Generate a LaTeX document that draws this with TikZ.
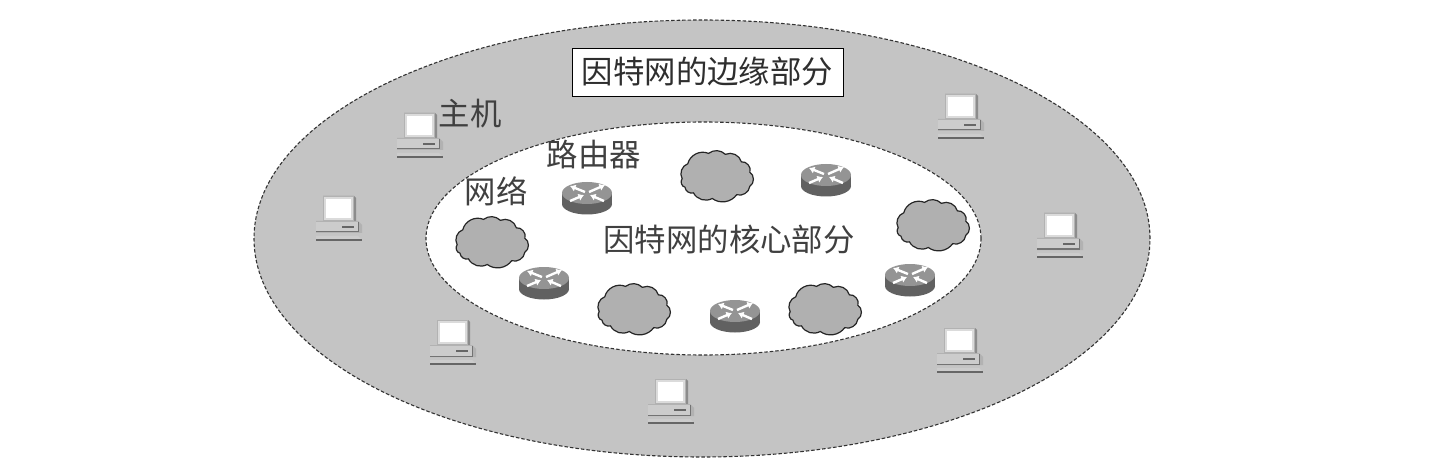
\documentclass[tikz,border=0pt]{standalone}
\usepackage{fontspec}
\usetikzlibrary{arrows.meta,shapes.geometric}
\setmainfont{Noto Sans CJK SC}
\begin{document}
\begin{tikzpicture}[x=1pt,y=-1pt,
  zone/.style={draw=black!80,line width=1.1pt,dash pattern=on 3.5pt off 2pt},
  lab/.style={text=black!75,inner sep=0pt,font=\fontsize{31.4}{33}\selectfont},
  rarrow/.style={white,line width=2.4pt,-{Latex[length=5.5pt,width=7.5pt]}},
  pics/host/.style={code={
    \fill[black!45] (-16,-22) -- (15,-22) -- (17,-20) -- (17,3) -- (-16,3) -- cycle;
    \fill[black!14,draw=black!30,line width=.8pt] (-16,-22) rectangle (14,2);
    \fill[white] (-13,-19) rectangle (12,0);
    \fill[black!30] (-23,3) -- (19,3) -- (23,7) -- (23,15) -- (-23,15) -- cycle;
    \fill[black!20] (-23,4) rectangle (19,14);
    \draw[black!60,line width=1.2pt] (3,9) -- (15,9);
    \draw[black!55,line width=1pt] (19,4) -- (19,14) -- (-23,14);
    \fill[black!20] (-23,18) -- (19,18) -- (23,22) -- (-23,22) -- cycle;
    \draw[black!60,line width=1.1pt] (-23,22) -- (23,22);
  }},
  pics/rtr/.style={code={
    \fill[black!62] (0,6) ellipse[x radius=25,y radius=10.5];
    \fill[black!62] (-25,-5) rectangle (25,6);
    \fill[black!42] (0,-5) ellipse[x radius=25,y radius=11];
    \draw[rarrow] (-2,-6) -- (-17,-12);
    \draw[rarrow] (2,-6) -- (18,-13);
    \draw[rarrow] (-17,3) -- (-3,-3);
    \draw[rarrow] (17,3) -- (3,-3);
  }},
  pics/cld/.style={code={
    \draw[fill=black!31,draw=black!85,line width=1.2pt,scale=.94]
      (-36,4) to[bend left=50] (-30,-12) to[bend left=50] (-8,-23)
      to[bend left=40] (10,-22) to[bend left=50] (27,-14)
      to[bend left=60] (36,-3) to[bend left=60] (36,12)
      to[bend left=50] (22,21) to[bend left=45] (-4,25)
      to[bend left=45] (-24,19) to[bend left=50] (-33,13)
      to[bend left=60] (-36,4) -- cycle;
  }}]
\useasboundingbox (0,0) rectangle (1435,473);
\fill[white] (0,0) rectangle (1435,473);
\node[zone,ellipse,fill=black!23,minimum width=896pt,minimum height=437pt,inner sep=0pt] (edge) at (702,238.5) {};
\node[zone,ellipse,fill=white,minimum width=555pt,minimum height=233pt,inner sep=0pt] (core) at (703.5,238.5) {};
\node[lab,draw=black,line width=.9pt,fill=white,text=black!82,minimum width=271pt,minimum height=48pt] (edgelabel) at (707.5,72) {因特网的边缘部分};
\node[lab] (corelabel) at (729,240) {因特网的核心部分};
\node[lab] (hostlabel) at (470,114) {主机};
\node[lab] (routerlabel) at (594,155) {路由器};
\node[lab] (netlabel) at (496,191) {网络};
\pic (h1) at (420,135) {host};
\pic (h2) at (339,218) {host};
\pic (h3) at (453,342) {host};
\pic (h4) at (671,401) {host};
\pic (h5) at (960,350) {host};
\pic (h6) at (1060,235) {host};
\pic (h7) at (961,116) {host};
\pic (r1) at (587,198) {rtr};
\pic (r2) at (826,180) {rtr};
\pic (r3) at (544,283) {rtr};
\pic (r4) at (735,316) {rtr};
\pic (r5) at (910,280) {rtr};
\pic (c1) at (491,241) {cld};
\pic (c2) at (716,175) {cld};
\pic (c3) at (932,224) {cld};
\pic (c4) at (633,308) {cld};
\pic (c5) at (824,308) {cld};
\end{tikzpicture}
\end{document}
